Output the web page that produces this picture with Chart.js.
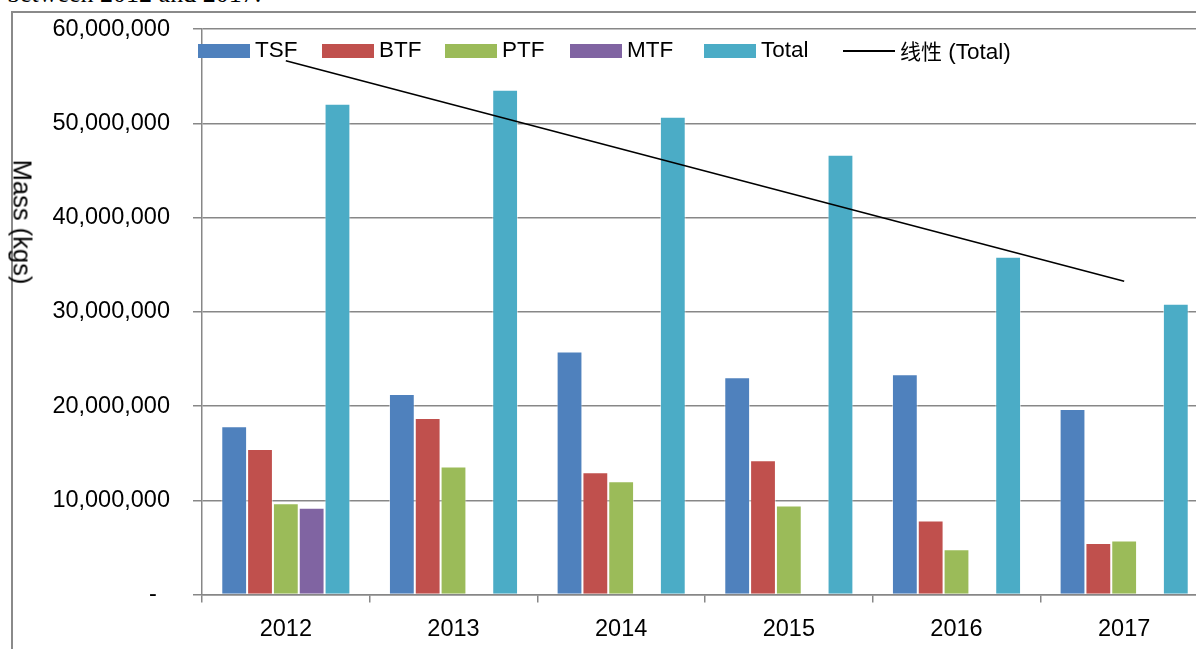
<!DOCTYPE html>
<html>
<head>
<meta charset="utf-8">
<script src="https://cdn.jsdelivr.net/npm/chart.js@4.4.0/dist/chart.umd.min.js"></script>
<style>
    html, body { margin: 0; padding: 0; background: #fff; overflow: hidden; width: 1196px; height: 649px; }
    #caption { position: absolute; left: 7px; top: -19px; font: 26px/1 'Liberation Serif', serif; color: #000; white-space: nowrap; }
    #frame { position: absolute; left: 11px; top: 11px; width: 1300px; height: 700px; border-left: 2px solid #8a8a8a; border-top: 2px solid #8a8a8a; }
    #wrap { position: absolute; left: 0; top: -8px; width: 1240px; height: 700px; }
    #ytitle { position: absolute; left: 22px; top: 222px; transform: translate(-50%, -50%) rotate(90deg); font: 25.5px 'Liberation Sans', sans-serif; white-space: nowrap; color: #000; }
    .lg { position: absolute; top: 38px; height: 24px; line-height: 24px; white-space: nowrap; font: 22.5px/24px 'Liberation Sans', sans-serif; color: #000; }
    .lg .box { display: inline-block; width: 52px; height: 14px; margin-right: 5px; vertical-align: -1px; }
    .lg .ln { display: inline-block; width: 52px; height: 0; border-top: 2px solid #000; margin-right: 5px; vertical-align: 7px; }
    .lg .cjk { font-family: 'Noto Sans CJK SC', sans-serif; font-size: 21px; }
</style>
</head>
<body>
<div id="caption">between 2012 and 2017.</div>
<div id="frame"></div>
<div id="wrap"><canvas id="chart" width="1240" height="700"></canvas></div>
<div id="ytitle">Mass (kgs)</div>
<div id="legend"></div>
<script>
    // values (kg)
    const years = ['2012', '2013', '2014', '2015', '2016', '2017'];
    const tsf = [17850000, 21270000, 25800000, 23050000, 23370000, 19680000];
    const btf = [15450000, 18730000, 12980000, 14250000, 7860000, 5460000];
    const ptf = [9690000, 13580000, 12020000, 9450000, 4790000, 5740000];
    const mtf = [9200000, null, null, null, null, null];
    const total = [52080000, 53560000, 50690000, 46660000, 35850000, 30860000];
    // Excel linear trendline of Total, end points
    const totalTrend = [56640000, null, null, null, null, 33250000];
    const yTicks = [0, 10000000, 20000000, 30000000, 40000000, 50000000, 60000000];

    const seriesNames = ['TSF', 'BTF', 'PTF', 'MTF', 'Total'];
    const seriesData = [tsf, btf, ptf, mtf, total];
    const seriesColors = ['#4f81bd', '#c0504d', '#9bbb59', '#8064a2', '#4bacc6'];
    const trendName = '线性 (Total)';

    const gridColor = '#878787';
    const fontFamily = "'Liberation Sans', sans-serif";

    let datasets = [];
    for (let i = 0; i < seriesNames.length; i++) {
        datasets.push({
            type: 'bar',
            label: seriesNames[i],
            data: seriesData[i],
            backgroundColor: seriesColors[i],
            borderColor: 'rgba(255, 255, 255, 0.5)',
            borderWidth: 1,
            categoryPercentage: 0.77,
            barPercentage: 1.0,
            order: 1
        });
    }
    datasets.push({
        type: 'line',
        label: trendName,
        data: totalTrend,
        spanGaps: true,
        borderColor: '#000',
        borderWidth: 1.6,
        pointRadius: 0,
        fill: false,
        order: 0
    });

    let ctx = document.getElementById('chart').getContext('2d');
    let myChart = new Chart(ctx, {
        type: 'bar',
        data: {
            labels: years,
            datasets: datasets
        },
        options: {
            responsive: false,
            animation: false,
            devicePixelRatio: 1,
            layout: { padding: { left: 0, top: 19, right: 32, bottom: 0 } },
            plugins: {
                legend: { display: false },
                tooltip: { enabled: false }
            },
            scales: {
                x: {
                    ticks: { color: '#000', font: { family: fontFamily, size: 23.5 }, padding: 13 },
                    grid: { drawOnChartArea: false, tickLength: 8, color: gridColor, lineWidth: 1.5, offset: true },
                    border: { color: gridColor, width: 1.5 },
                    afterFit: function (scale) { scale.height = 700 - 602.5; }
                },
                y: {
                    min: 0,
                    max: 60000000,
                    afterBuildTicks: function (scale) {
                        scale.ticks = yTicks.map(function (v) { return { value: v }; });
                    },
                    ticks: {
                        color: '#000',
                        font: { family: fontFamily, size: 23.5 },
                        padding: 23,
                        callback: function (value) {
                            if (value === 0) return '-\u00a0\u00a0';
                            return value.toLocaleString('en-US');
                        }
                    },
                    grid: { color: gridColor, lineWidth: 1.5, tickLength: 9 },
                    border: { color: gridColor, width: 1.5 },
                    afterFit: function (scale) { scale.width = 202; }
                }
            }
        }
    });

    // legend drawn as html over the plot, like the Excel legend
    const legendX = [198, 322, 445, 570, 704, 843];
    let legend = document.getElementById('legend');
    for (let i = 0; i < seriesNames.length; i++) {
        let item = document.createElement('div');
        item.className = 'lg';
        item.style.left = legendX[i] + 'px';
        item.innerHTML = '<span class="box" style="background:' + seriesColors[i] + '"></span>' + seriesNames[i];
        legend.appendChild(item);
    }
    let trendItem = document.createElement('div');
    trendItem.className = 'lg';
    trendItem.style.left = legendX[5] + 'px';
    let parts = trendName.split(' ');
    trendItem.innerHTML = '<span class="ln"></span><span class="cjk">' + parts[0] + '</span> ' + parts.slice(1).join(' ');
    legend.appendChild(trendItem);
</script>
</body>
</html>
